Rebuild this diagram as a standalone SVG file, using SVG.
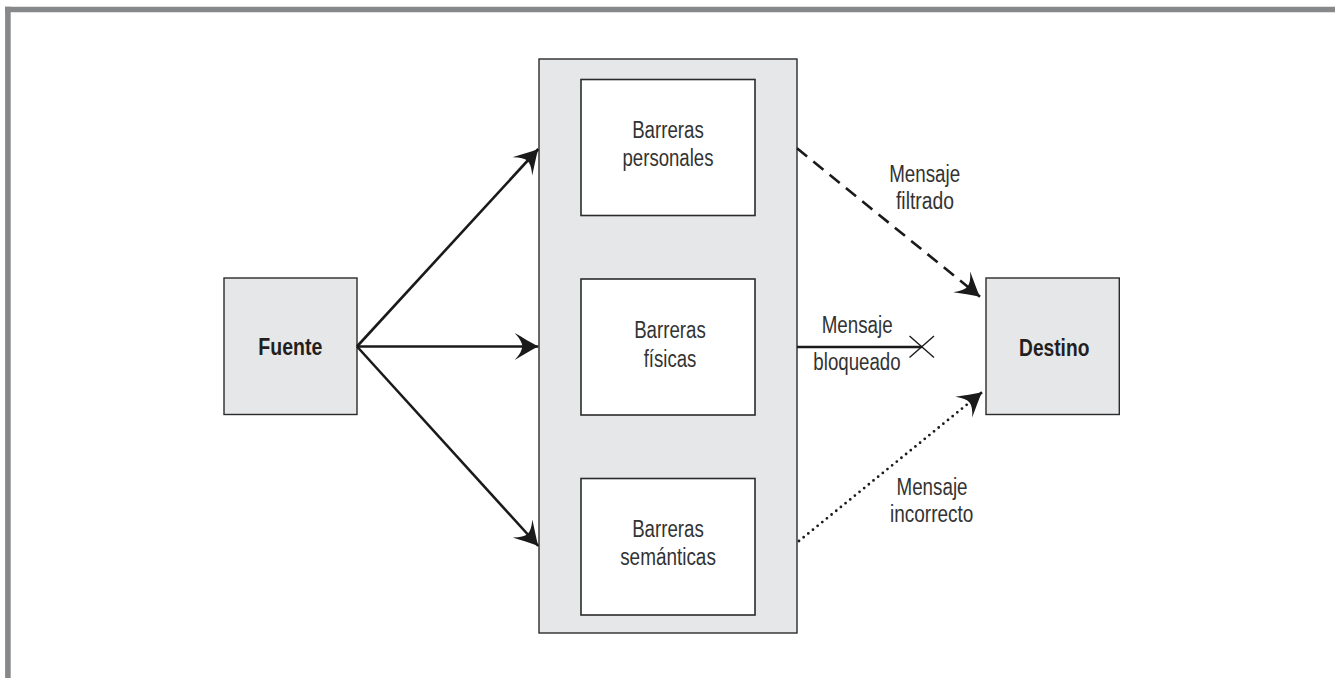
<svg xmlns="http://www.w3.org/2000/svg" width="1335" height="678" viewBox="0 0 1335 678">
  <style>
    .frame { stroke: #87888a; stroke-width: 5.6; fill: none; }
    .panel { fill: #e6e7e8; stroke: #2b2b2b; stroke-width: 1.4; }
    .inner { fill: #ffffff; stroke: #2b2b2b; stroke-width: 1.6; }
    .term { fill: #e6e7e8; stroke: #2b2b2b; stroke-width: 1.4; }
    .t { font-family: "Liberation Sans Narrow", "Liberation Sans", Arial, sans-serif; font-size: 23px; fill: #333333; text-anchor: middle; }
    .b { font-family: "Liberation Sans Narrow", "Liberation Sans", Arial, sans-serif; font-size: 23px; font-weight: bold; fill: #231f20; text-anchor: middle; }
    .arrow { stroke: #1a1a1a; stroke-width: 2.6; fill: none; }
    .dash { stroke-dasharray: 13 8; }
    .dot { stroke-dasharray: 0 6; stroke-linecap: round; stroke-width: 2.8; }
    .xmark { stroke: #1a1a1a; stroke-width: 1.4; fill: none; }
  </style>
  <defs>
    <marker id="ah" markerUnits="userSpaceOnUse" markerWidth="30" markerHeight="30" viewBox="-24 -14 26 28" refX="0" refY="0" orient="auto">
      <path d="M0,0 C-7,-3.5 -15,-8.5 -22,-12.5 Q-15,-5 -15,0 Q-15,5 -22,12.5 C-15,8.5 -7,3.5 0,0 Z" fill="#1a1a1a"/>
    </marker>
  </defs>

  <g id="frame">
    <line class="frame" x1="5" y1="9.5" x2="1335" y2="9.5"/>
    <line class="frame" x1="7.9" y1="6.7" x2="7.9" y2="678"/>
  </g>

  <g id="barreras-panel">
    <rect class="panel" x="539" y="59" width="258" height="574"/>
  </g>

  <g id="barreras-personales">
    <rect class="inner" x="581" y="79.5" width="174" height="136"/>
    <text class="t" x="668" y="137.5" textLength="71.7" lengthAdjust="spacingAndGlyphs">Barreras</text>
    <text class="t" x="668" y="165.5" textLength="91" lengthAdjust="spacingAndGlyphs">personales</text>
  </g>

  <g id="barreras-fisicas">
    <rect class="inner" x="581" y="279" width="174" height="136"/>
    <text class="t" x="670" y="338.3" textLength="71.7" lengthAdjust="spacingAndGlyphs">Barreras</text>
    <text class="t" x="670" y="366.7" textLength="52.7" lengthAdjust="spacingAndGlyphs">físicas</text>
  </g>

  <g id="barreras-semanticas">
    <rect class="inner" x="581" y="478.5" width="174" height="136.5"/>
    <text class="t" x="668" y="536.7" textLength="71.7" lengthAdjust="spacingAndGlyphs">Barreras</text>
    <text class="t" x="668" y="565" textLength="95.7" lengthAdjust="spacingAndGlyphs">semánticas</text>
  </g>

  <g id="fuente">
    <rect class="term" x="224" y="278" width="133" height="136.5"/>
    <text class="b" x="290.3" y="354.5" textLength="64" lengthAdjust="spacingAndGlyphs">Fuente</text>
  </g>

  <g id="destino">
    <rect class="term" x="986" y="278" width="133.3" height="136.5"/>
    <text class="b" x="1054.2" y="356" textLength="70.3" lengthAdjust="spacingAndGlyphs">Destino</text>
  </g>

  <g id="connectors">
    <line class="arrow" x1="357" y1="346.5" x2="538.3" y2="149" marker-end="url(#ah)"/>
    <line class="arrow" x1="357" y1="346.5" x2="538.3" y2="346.5" marker-end="url(#ah)"/>
    <line class="arrow" x1="357" y1="346.5" x2="538.3" y2="546" marker-end="url(#ah)"/>

    <line class="arrow dash" x1="797" y1="148.3" x2="980" y2="296.7" marker-end="url(#ah)"/>
    <line class="arrow" x1="797" y1="347" x2="921.7" y2="347"/>
    <g class="xmark">
      <line x1="909.5" y1="336" x2="934" y2="357.5"/>
      <line x1="909.5" y1="357.5" x2="934" y2="336"/>
    </g>
    <line class="arrow dot" x1="799" y1="541" x2="975" y2="398"/>
    <line class="arrow" x1="975" y1="398" x2="982" y2="392.3" stroke-width="1" marker-end="url(#ah)"/>
  </g>

  <g id="labels">
    <text class="t" x="924.7" y="181.7" textLength="71" lengthAdjust="spacingAndGlyphs">Mensaje</text>
    <text class="t" x="925" y="209" textLength="58" lengthAdjust="spacingAndGlyphs">filtrado</text>
    <text class="t" x="857.2" y="333.3" textLength="71" lengthAdjust="spacingAndGlyphs">Mensaje</text>
    <text class="t" x="857" y="370" textLength="87.3" lengthAdjust="spacingAndGlyphs">bloqueado</text>
    <text class="t" x="932" y="495" textLength="71" lengthAdjust="spacingAndGlyphs">Mensaje</text>
    <text class="t" x="931.7" y="521.7" textLength="83.3" lengthAdjust="spacingAndGlyphs">incorrecto</text>
  </g>
</svg>
